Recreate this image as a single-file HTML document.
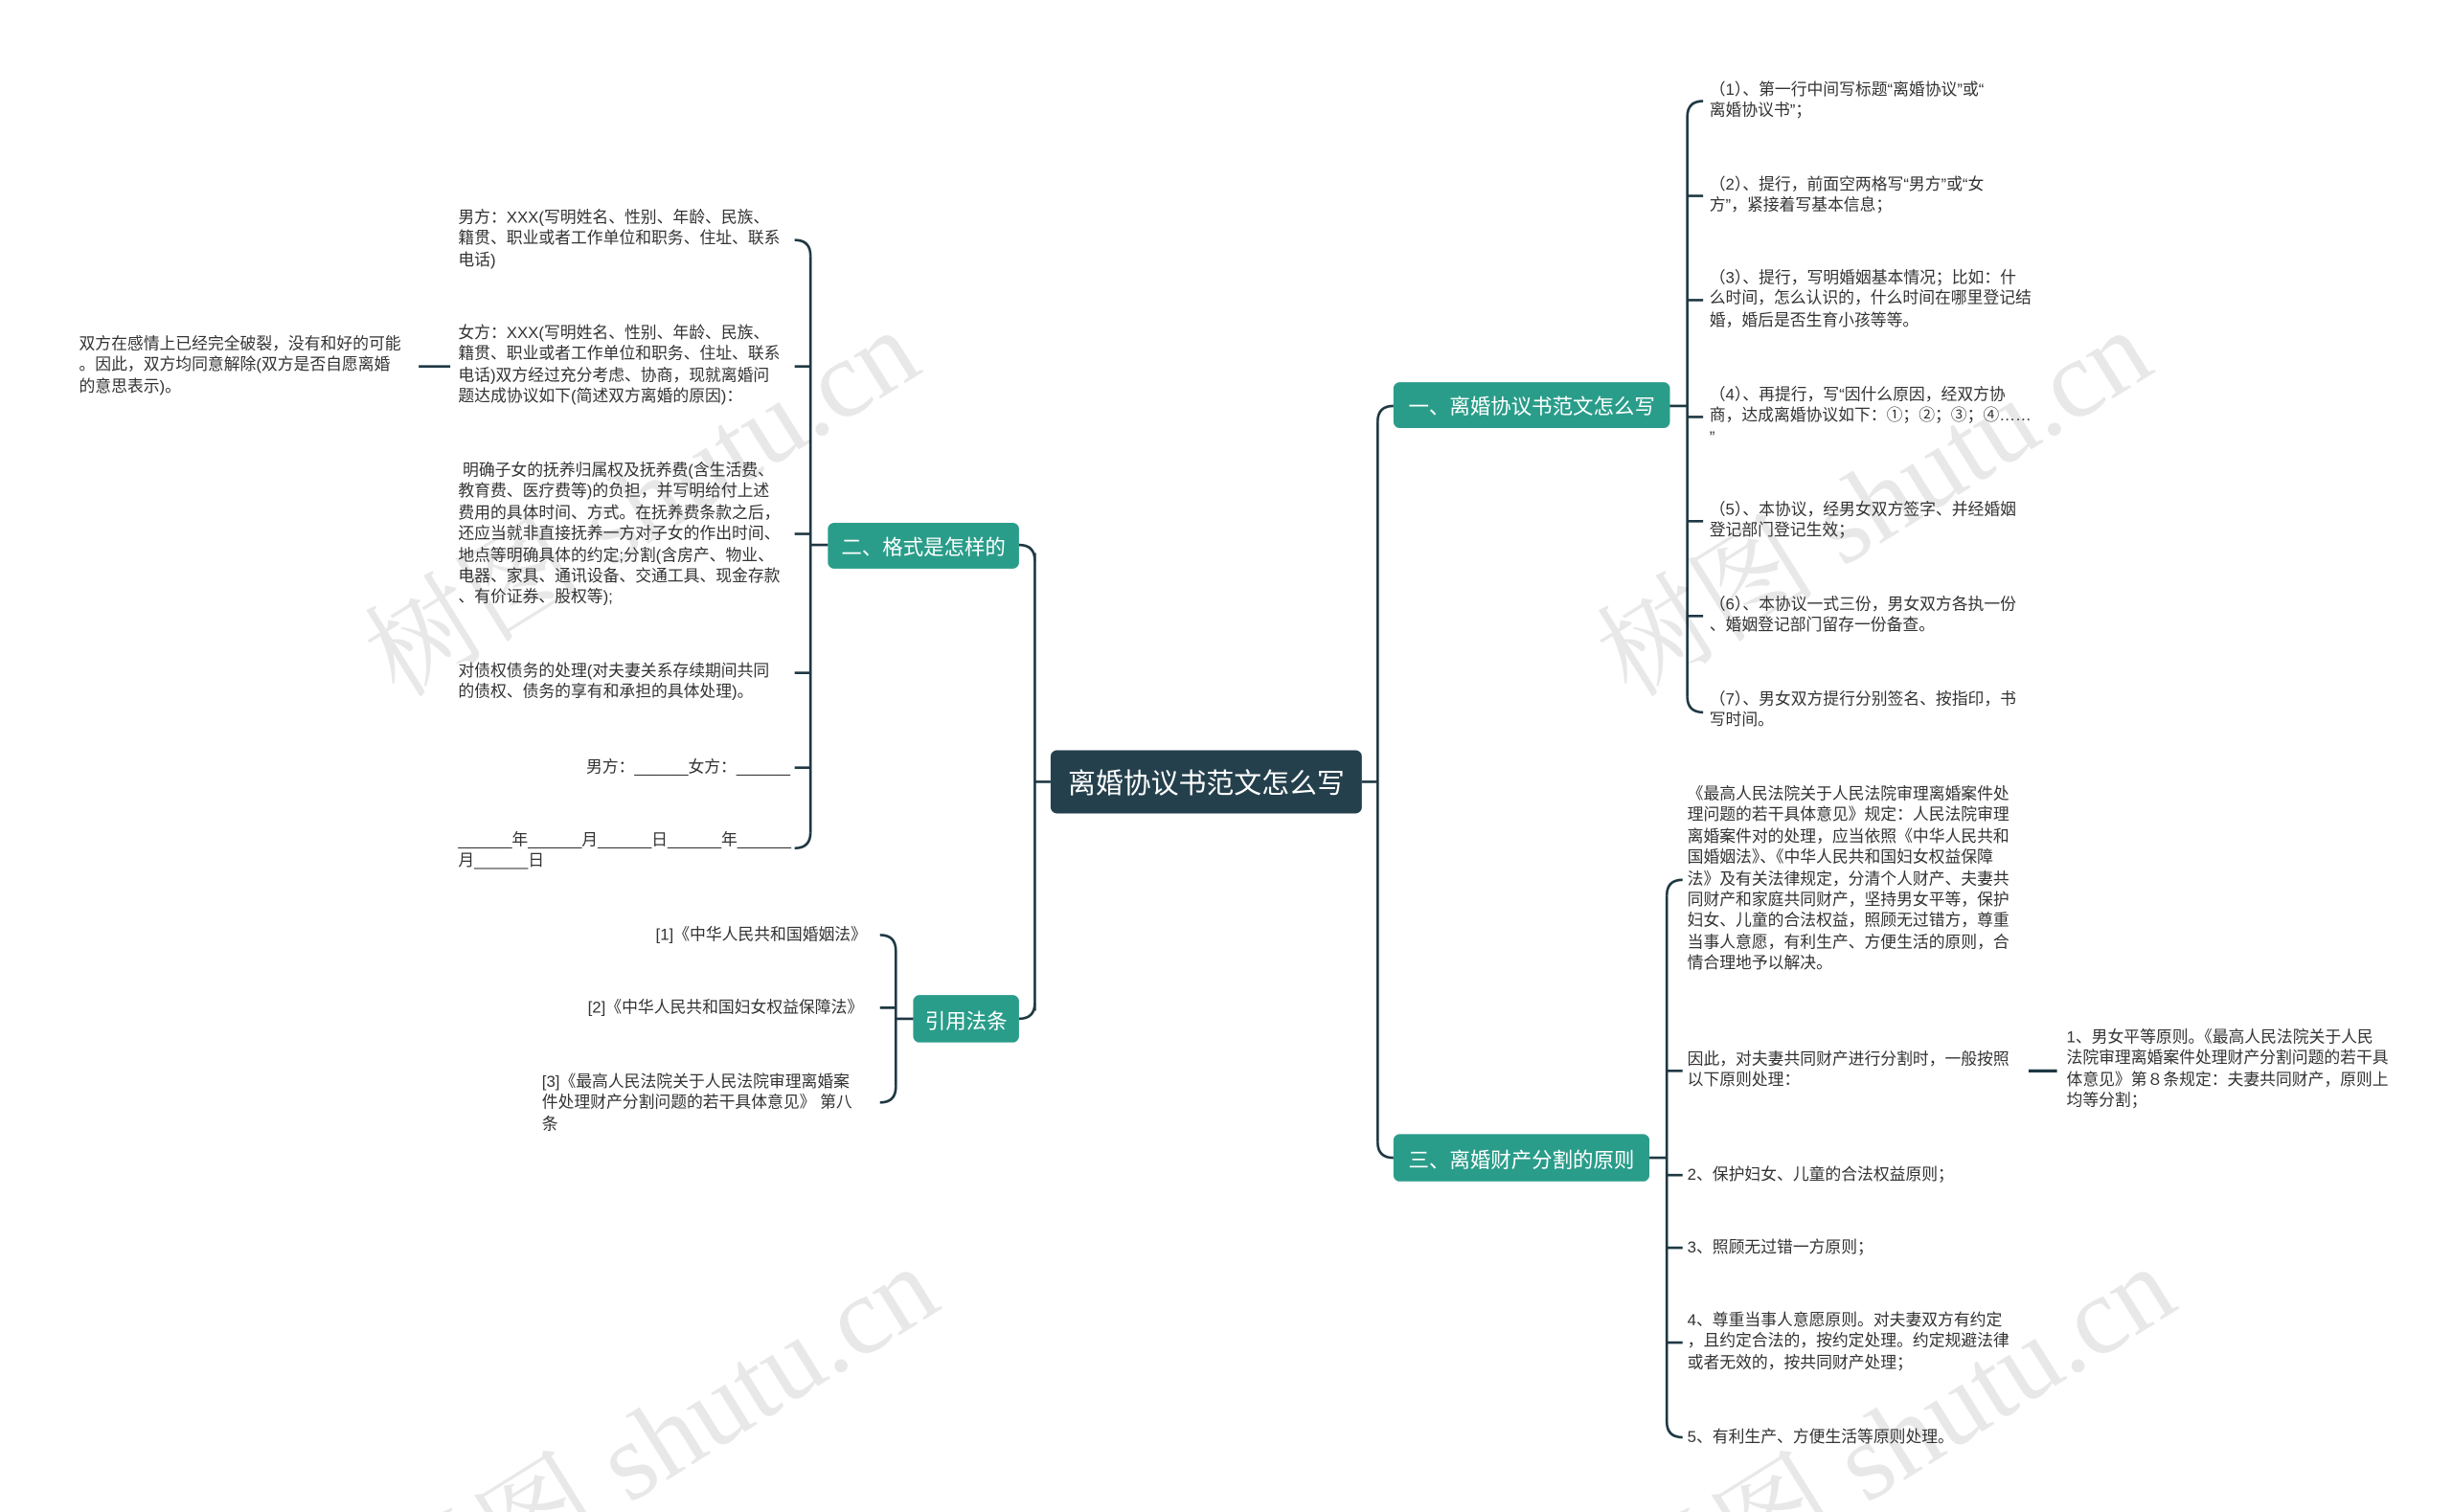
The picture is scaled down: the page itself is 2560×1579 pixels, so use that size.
<!DOCTYPE html>
<html><head><meta charset="utf-8"><style>
html,body{margin:0;padding:0;background:#fff;overflow:hidden;width:2560px;height:1579px}
#c{position:absolute;left:0;top:0;width:2560px;height:1579px;overflow:hidden}
#w{position:absolute;left:0;top:0;width:1552px;height:958px;overflow:hidden;transform:scale(1.64948);transform-origin:0 0;font-family:"Liberation Sans","Noto Sans CJK SC",sans-serif}
.t{position:absolute;font-size:10.2px;line-height:13.4px;color:#333;white-space:nowrap}
.n{position:absolute;color:#fff;background:#2a9d8a;border-radius:4px;font-size:13px;display:flex;align-items:center;justify-content:center;white-space:nowrap}
.wm{position:absolute;font-size:70px;color:#000;opacity:.09;transform:rotate(-32deg);transform-origin:0 0;white-space:nowrap;font-family:"Liberation Serif","Noto Serif CJK SC",serif}
svg{position:absolute;left:0;top:0}
</style></head><body><div id="c"><div id="w">
<svg width="1552" height="958" fill="none" stroke="#1e3843" stroke-width="1.6">
<path d="M665 495 H655 M655 350 V640"/>
<path d="M645 345 Q655 345 655 355 M645 645 Q655 645 655 635"/>
<path d="M862 495 H872 M872 267 V723"/>
<path d="M882 257 Q872 257 872 267 M882 733 Q872 733 872 723"/>
<path d="M1057 257 H1068 M1068 74 V441"/>
<path d="M1078 64 Q1068 64 1068 74 M1078 451 Q1068 451 1068 441"/>
<path d="M1068 124 h10 M1068 190 h10 M1068 264 h10 M1068 330 h10 M1068 390 h10"/>
<path d="M1044 733 H1055 M1055 567 V900"/>
<path d="M1065 557 Q1055 557 1055 567 M1065 910 Q1055 910 1055 900"/>
<path d="M1055 678 h10 M1055 744 h10 M1055 790 h10 M1055 850 h10"/>
<path d="M1284 678 H1302" stroke-width="2"/>
<path d="M524 345 H513 M513 162 V527"/>
<path d="M503 152 Q513 152 513 162 M503 537 Q513 537 513 527"/>
<path d="M513 232 h-10 M513 338 h-10 M513 426 h-10 M513 486 h-10"/>
<path d="M265 232 H285"/>
<path d="M578 645 H567 M567 602 V688"/>
<path d="M557 592 Q567 592 567 602 M557 698 Q567 698 567 688"/>
<path d="M567 638 h-10"/>
</svg>

<div class="wm" style="left:210px;top:375px">树图 shutu.cn</div>
<div class="wm" style="left:990px;top:375px">树图 shutu.cn</div>
<div class="wm" style="left:222px;top:968px">树图 shutu.cn</div>
<div class="wm" style="left:1005px;top:968px">树图 shutu.cn</div>

<div class="n" style="left:665px;top:475px;width:197px;height:40px;background:#25404d;font-size:17.5px">离婚协议书范文怎么写</div>
<div class="n" style="left:882px;top:242px;width:175px;height:29px">一、离婚协议书范文怎么写</div>
<div class="n" style="left:524px;top:331px;width:121px;height:29px">二、格式是怎样的</div>
<div class="n" style="left:578px;top:630px;width:67px;height:30px">引用法条</div>
<div class="n" style="left:882px;top:718px;width:162px;height:30px">三、离婚财产分割的原则</div>

<div class="t" style="left:1082px;top:51px">（1）、第一行中间写标题“离婚协议”或“<br>离婚协议书”；</div>
<div class="t" style="left:1082px;top:111px">（2）、提行，前面空两格写“男方”或“女<br>方”，紧接着写基本信息；</div>
<div class="t" style="left:1082px;top:170px">（3）、提行，写明婚姻基本情况；比如：什<br>么时间，怎么认识的，什么时间在哪里登记结<br>婚，婚后是否生育小孩等等。</div>
<div class="t" style="left:1082px;top:244px">（4）、再提行，写“因什么原因，经双方协<br>商，达成离婚协议如下：①；②；③；④……<br>”</div>
<div class="t" style="left:1082px;top:317px">（5）、本协议，经男女双方签字、并经婚姻<br>登记部门登记生效；</div>
<div class="t" style="left:1082px;top:377px">（6）、本协议一式三份，男女双方各执一份<br>、婚姻登记部门留存一份备查。</div>
<div class="t" style="left:1082px;top:437px">（7）、男女双方提行分别签名、按指印，书<br>写时间。</div>

<div class="t" style="left:1068px;top:497px">《最高人民法院关于人民法院审理离婚案件处<br>理问题的若干具体意见》规定：人民法院审理<br>离婚案件对的处理，应当依照《中华人民共和<br>国婚姻法》、《中华人民共和国妇女权益保障<br>法》及有关法律规定，分清个人财产、夫妻共<br>同财产和家庭共同财产，坚持男女平等，保护<br>妇女、儿童的合法权益，照顾无过错方，尊重<br>当事人意愿，有利生产、方便生活的原则，合<br>情合理地予以解决。</div>
<div class="t" style="left:1068px;top:665px">因此，对夫妻共同财产进行分割时，一般按照<br>以下原则处理：</div>
<div class="t" style="left:1308px;top:651px">1、男女平等原则。《最高人民法院关于人民<br>法院审理离婚案件处理财产分割问题的若干具<br>体意见》第８条规定：夫妻共同财产，原则上<br>均等分割；</div>
<div class="t" style="left:1068px;top:738px">2、保护妇女、儿童的合法权益原则；</div>
<div class="t" style="left:1068px;top:784px">3、照顾无过错一方原则；</div>
<div class="t" style="left:1068px;top:830px">4、尊重当事人意愿原则。对夫妻双方有约定<br>，且约定合法的，按约定处理。约定规避法律<br>或者无效的，按共同财产处理；</div>
<div class="t" style="left:1068px;top:904px">5、有利生产、方便生活等原则处理。</div>

<div class="t" style="left:290px;top:132px">男方：XXX(写明姓名、性别、年龄、民族、<br>籍贯、职业或者工作单位和职务、住址、联系<br>电话)</div>
<div class="t" style="left:290px;top:205px">女方：XXX(写明姓名、性别、年龄、民族、<br>籍贯、职业或者工作单位和职务、住址、联系<br>电话)双方经过充分考虑、协商，现就离婚问<br>题达成协议如下(简述双方离婚的原因)：</div>
<div class="t" style="left:290px;top:292px">&nbsp;明确子女的抚养归属权及抚养费(含生活费、<br>教育费、医疗费等)的负担，并写明给付上述<br>费用的具体时间、方式。在抚养费条款之后，<br>还应当就非直接抚养一方对子女的作出时间、<br>地点等明确具体的约定;分割(含房产、物业、<br>电器、家具、通讯设备、交通工具、现金存款<br>、有价证券、股权等);</div>
<div class="t" style="left:290px;top:419px">对债权债务的处理(对夫妻关系存续期间共同<br>的债权、债务的享有和承担的具体处理)。</div>
<div class="t" style="left:371px;top:480px">男方：______女方：______</div>
<div class="t" style="left:290px;top:526px">______年______月______日______年______<br>月______日</div>
<div class="t" style="left:50px;top:212px">双方在感情上已经完全破裂，没有和好的可能<br>。因此，双方均同意解除(双方是否自愿离婚<br>的意思表示)。</div>

<div class="t" style="left:415px;top:586px">[1]《中华人民共和国婚姻法》</div>
<div class="t" style="left:372px;top:632px">[2]《中华人民共和国妇女权益保障法》</div>
<div class="t" style="left:343px;top:679px">[3]《最高人民法院关于人民法院审理离婚案<br>件处理财产分割问题的若干具体意见》 第八<br>条</div>
</div></div></body></html>
